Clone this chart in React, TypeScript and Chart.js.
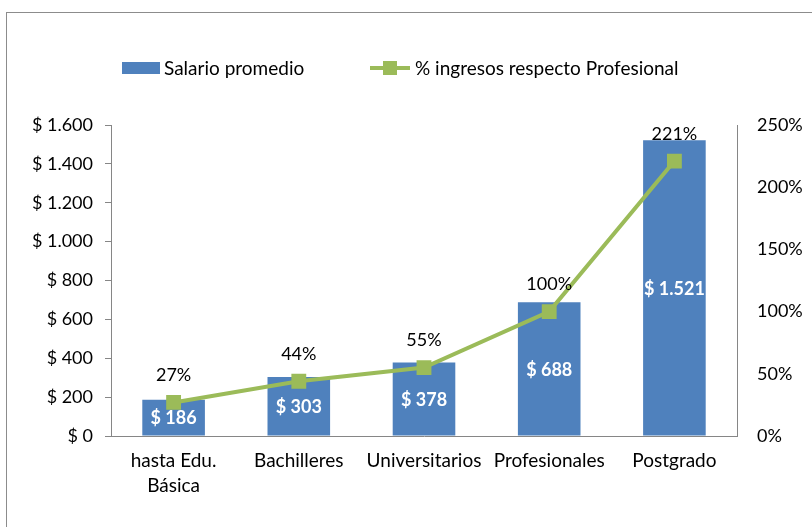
import React, { useEffect, useRef } from "react";
import { Chart, registerables } from "chart.js";

Chart.register(...registerables);

const categories: (string | string[])[] = [["hasta Edu.", "Básica"], "Bachilleres", "Universitarios", "Profesionales", "Postgrado"];
const salario: number[] = [186, 303, 378, 688, 1521];
const porcentaje: number[] = [27, 44, 55, 100, 221];
const seriesNames: string[] = ["Salario promedio", "% ingresos respecto Profesional"];

const FONT = "Lato, 'Noto Sans', sans-serif";
const BLUE = "#4F81BD";
const GREEN = "#9BBB59";

const fmtMoney = (v: number) => "$ " + Math.round(v).toString().replace(/\B(?=(\d{3})+(?!\d))/g, ".");

const customPlugin = {
  id: "custom",
  beforeDraw(chart: any) {
    const ctx = chart.ctx;
    ctx.save();
    ctx.fillStyle = "#ffffff";
    ctx.fillRect(0, 0, chart.width, chart.height);
    ctx.strokeStyle = "#8c8c8c";
    ctx.lineWidth = 1;
    ctx.strokeRect(6.5, 12.5, chart.width + 20, chart.height + 20);
    ctx.restore();
  },
  afterDatasetsDraw(chart: any) {
    const ctx = chart.ctx;
    ctx.save();
    // bar labels
    const barMeta = chart.getDatasetMeta(0);
    ctx.font = "bold 18px " + FONT;
    ctx.fillStyle = "#ffffff";
    ctx.textAlign = "center";
    ctx.textBaseline = "middle";
    barMeta.data.forEach((el: any, i: number) => {
      const y = (el.y + el.base) / 2;
      ctx.fillText(fmtMoney(salario[i]), el.x, y + 1);
    });
    // line labels
    const lineMeta = chart.getDatasetMeta(1);
    ctx.font = "18px " + FONT;
    ctx.fillStyle = "#000000";
    lineMeta.data.forEach((el: any, i: number) => {
      ctx.fillText(porcentaje[i] + "%", el.x, el.y - 27);
    });
    // legend
    const ly = 68;
    ctx.fillStyle = BLUE;
    ctx.fillRect(122, ly - 6, 38, 12);
    ctx.fillStyle = "#000000";
    ctx.textAlign = "left";
    ctx.font = "19px " + FONT;
    ctx.fillText(seriesNames[0], 164, ly + 1);
    ctx.strokeStyle = GREEN;
    ctx.lineWidth = 4;
    ctx.beginPath();
    ctx.moveTo(370, ly);
    ctx.lineTo(410, ly);
    ctx.stroke();
    ctx.fillStyle = GREEN;
    ctx.fillRect(383, ly - 7, 14, 14);
    ctx.fillStyle = "#000000";
    ctx.fillText(seriesNames[1], 415, ly + 1);
    ctx.restore();
  },
};

export default function App() {
  const ref = useRef<HTMLCanvasElement | null>(null);
  useEffect(() => {
    if (!ref.current) return;
    const chart = new Chart(ref.current, {
      type: "bar",
      data: {
        labels: categories as any,
        datasets: [
          {
            type: "bar",
            label: seriesNames[0],
            data: salario,
            backgroundColor: BLUE,
            yAxisID: "y",
            barPercentage: 0.5,
            categoryPercentage: 1,
            order: 1,
          } as any,
          {
            type: "line",
            label: seriesNames[1],
            data: porcentaje,
            borderColor: GREEN,
            backgroundColor: GREEN,
            borderWidth: 4,
            pointStyle: "rect",
            pointRadius: 10.5,
            pointBorderWidth: 0,
            pointBackgroundColor: GREEN,
            yAxisID: "y1",
            order: 0,
          } as any,
        ],
      },
      options: {
        responsive: false,
        animation: false,
        layout: { padding: { top: 125, left: 0, right: 0, bottom: 0 } },
        plugins: { legend: { display: false }, tooltip: { enabled: false } },
        scales: {
          x: {
            grid: { display: false, drawTicks: false },
            border: { display: true, color: "#868686", width: 1 },
            ticks: { color: "#000", font: { family: FONT, size: 19, lineHeight: 1.32 }, padding: 12, maxRotation: 0, autoSkip: false },
            afterFit: (s: any) => { s.height = 91; },
          },
          y: {
            position: "left",
            min: 0,
            max: 1600,
            ticks: { stepSize: 200, color: "#000", font: { family: FONT, size: 18 }, padding: 12, callback: (v: any) => fmtMoney(Number(v)) },
            grid: { drawOnChartArea: false, drawTicks: true, tickLength: 6, color: "#868686" },
            border: { display: true, color: "#868686", width: 1 },
            afterFit: (s: any) => { s.width = 111; },
          },
          y1: {
            position: "right",
            min: 0,
            max: 250,
            ticks: { stepSize: 50, color: "#000", font: { family: FONT, size: 18 }, padding: 20, callback: (v: any) => v + "%" },
            grid: { display: false, drawTicks: false },
            border: { display: true, color: "#868686", width: 1 },
            afterFit: (s: any) => { s.width = 75; },
          },
        },
      },
      plugins: [customPlugin],
    });
    return () => chart.destroy();
  }, []);
  return (
    <div style={{ position: "fixed", left: 0, top: 0, width: 812, height: 527 }}>
      <canvas ref={ref} width={812} height={527} />
    </div>
  );
}
